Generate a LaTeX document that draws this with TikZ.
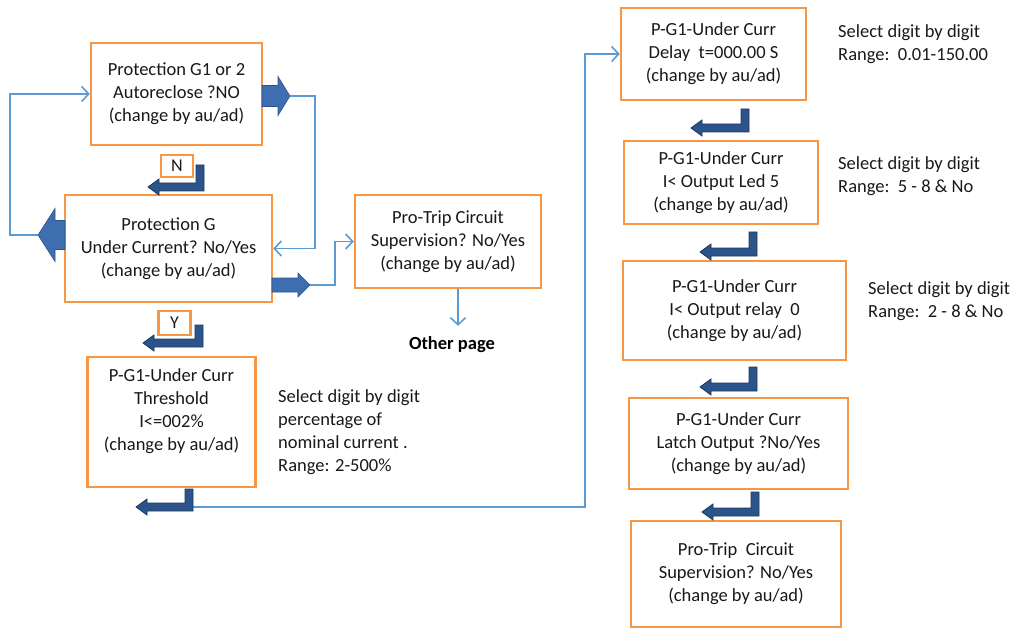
\documentclass[tikz,border=0pt]{standalone}
\usepackage{fontspec}
\setmainfont{Carlito}
\usetikzlibrary{arrows.meta,calc}
\definecolor{boxor}{RGB}{247,150,70}
\definecolor{thinb}{RGB}{91,155,213}
\definecolor{fatb}{RGB}{62,110,175}
\definecolor{fatbd}{RGB}{45,85,140}
\definecolor{bentb}{RGB}{44,84,138}
\definecolor{bentbd}{RGB}{28,56,96}
\definecolor{txt}{RGB}{25,25,25}
\tikzset{
  box/.style={draw=boxor, line width=2.5pt, fill=white, align=center, inner sep=0pt, text=txt,
    font=\fontsize{18.5}{23}\selectfont},
  lab/.style={draw=boxor, line width=2.2pt, fill=white, inner sep=0pt, text=txt,
    font=\fontsize{18}{20}\selectfont},
  side/.style={align=left, anchor=west, inner sep=0pt, text=txt, font=\fontsize{18.5}{23}\selectfont},
  conn/.style={draw=thinb, line width=1.6pt, -{Straight Barb[length=7pt,width=15pt,line width=1.6pt]}},
  fat/.style={fill=fatb, draw=fatbd, line width=0.6pt},
  bent/.style={fill=bentb, draw=bentbd, line width=0.8pt},
}
\newcommand\bentarr[4]{%
  \filldraw[bent] (#1-4,#2) -- (#1+4,#2) -- (#1+4,#3+4) -- (#4+11,#3+4) -- (#4+11,#3+8)
    -- (#4,#3) -- (#4+11,#3-8) -- (#4+11,#3-4) -- (#1-4,#3-4) -- cycle;}
\begin{document}
\begin{tikzpicture}[x=1pt,y=-1pt]
\useasboundingbox (0,0) rectangle (1016,628);

% boxes
\node[box, minimum width=171pt, minimum height=102pt] (A) at (176.5,94)
  {Protection G1 or 2\\Autoreclose ?NO\\(change by au/ad)};
\node[box, minimum width=207pt, minimum height=107pt] (B) at (168.5,248.5)
  {Protection G\\Under Current? No/Yes\\(change by au/ad)};
\node[box, minimum width=186pt, minimum height=93pt] (C) at (448,241.5)
  {Pro-Trip Circuit\\Supervision? No/Yes\\(change by au/ad)};
\node[lab, minimum width=32pt, minimum height=22pt] (N) at (177,166) {N};
\node[lab, minimum width=32pt, minimum height=24pt] (Y) at (174.5,323) {Y};
\node[box, minimum width=168pt, minimum height=130pt] (D) at (171.5,422) {};
\node[align=center, inner sep=0pt, text=txt, font=\fontsize{18.5}{23}\selectfont] (Dt) at (171.5,411)
  {P-G1-Under Curr\\Threshold\\I<=002\%\\(change by au/ad)};
\node[box, minimum width=185pt, minimum height=92pt] (E) at (713.5,54)
  {P-G1-Under Curr\\Delay\ \ t=000.00 S\\(change by au/ad)};
\node[box, minimum width=194pt, minimum height=83pt] (F) at (721,182.5)
  {P-G1-Under Curr\\I< Output Led 5\\(change by au/ad)};
\node[box, minimum width=223pt, minimum height=99pt] (G) at (734.5,310.5)
  {P-G1-Under Curr\\I< Output relay\ \ 0\\(change by au/ad)};
\node[box, minimum width=219pt, minimum height=91pt] (H) at (738.5,443.5)
  {P-G1-Under Curr\\Latch Output ?No/Yes\\(change by au/ad)};
\node[box, minimum width=210pt, minimum height=106pt] (I) at (736,574)
  {Pro-Trip\ \ Circuit\\Supervision? No/Yes\\(change by au/ad)};
\node[inner sep=0pt, text=black, font=\fontsize{18.5}{20}\selectfont\bfseries, minimum height=38pt] (O) at (452,345) {Other page};

% side notes
\node[side] (sE) at (838,44.5) {Select digit by digit\\Range:\ \ 0.01-150.00};
\node[side] (sF) at (838,176.5) {Select digit by digit\\Range:\ \ 5 - 8 \& No};
\node[side] (sG) at (868,301.5) {Select digit by digit\\Range:\ \ 2 - 8 \& No};
\node[side] (sD) at (278,432.5) {Select digit by digit\\percentage of\\nominal current .\\Range: 2-500\%};

% fat arrows
\coordinate (aR) at (290,96);
\coordinate (bL) at (38,235);
\coordinate (bR) at (310,285);
\filldraw[fat] (262,85.5) -- (278,85.5) -- (278,76.5) -- (aR) -- (278,115.5) -- (278,106.5) -- (262,106.5) -- cycle;
\filldraw[fat] (65,220.5) -- (55,220.5) -- (55,208.5) -- (bL) -- (55,261.5) -- (55,249.5) -- (65,249.5) -- cycle;
\filldraw[fat] (272,278) -- (298,278) -- (298,273) -- (bR) -- (298,297) -- (298,292) -- (272,292) -- cycle;

% thin connectors
\coordinate (loopL) at (10,0);
\coordinate (loopR) at (315,0);
\coordinate (loopC) at (335,0);
\coordinate (loopE) at (585,0);
\coordinate (dB) at (175,507);
\draw[conn] (bL) -- (bL -| loopL) |- (A.west);
\draw[conn] (aR) -- (aR -| loopR) |- (B.east);
\draw[conn] (bR) -- (bR -| loopC) |- (C.west);
\draw[conn] ([xshift=10pt]C.south) -- ([xshift=10pt]C.south |- O.north);
\draw[conn] (dB) -- (dB -| loopE) |- (E.west);

% bent arrows
\bentarr{200}{165}{187}{148}
\bentarr{199}{325}{343}{143}
\bentarr{189}{489}{507}{136}
\bentarr{745}{109}{128}{691}
\bentarr{753}{232}{252}{700}
\bentarr{753}{367}{387}{700}
\bentarr{755}{492}{512}{702}
\end{tikzpicture}
\end{document}
